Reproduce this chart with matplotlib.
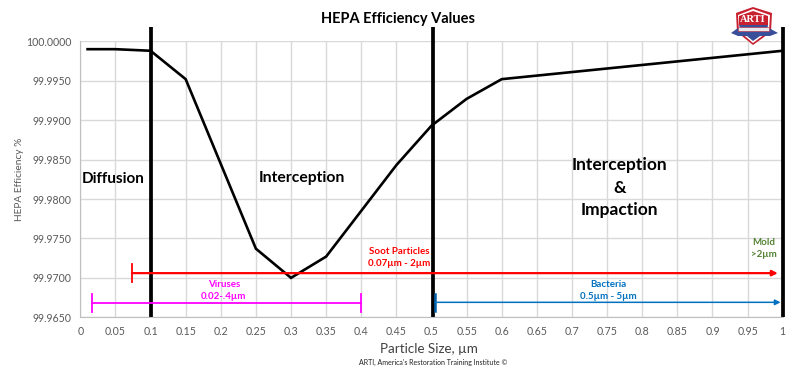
import matplotlib
matplotlib.use('Agg')
import numpy as np
from matplotlib import pyplot as plt
from matplotlib.patches import Polygon

plt.rcParams['font.family'] = ['Lato', 'DejaVu Sans']

# data
size = [0.0085, 0.05, 0.1, 0.15, 0.25, 0.3, 0.35, 0.4, 0.45, 0.5, 0.55, 0.6, 1.0]
eff = [99.9990, 99.9990, 99.9988, 99.9952, 99.9737, 99.9700, 99.9727, 99.9785,
       99.9843, 99.9893, 99.9927, 99.9952, 99.9988]
walls = [0.1, 0.5025, 1.0]
wall_top = 100.0018
soot = [0.0735, 0.993, 99.9706]
virus = [0.017, 0.40, 99.9668]
bact = [0.505, 0.997, 99.9669]
xticks = np.arange(0, 21) * 0.05
xlabels = ['0', '0.05', '0.1', '0.15', '0.2', '0.25', '0.3', '0.35', '0.4', '0.45', '0.5',
           '0.55', '0.6', '0.65', '0.7', '0.75', '0.8', '0.85', '0.9', '0.95', '1']
yticks = [99.965, 99.97, 99.975, 99.98, 99.985, 99.99, 99.995, 100.0]

W, H = 798, 370
fig = plt.figure(figsize=(W / 100, H / 100), dpi=100)
ax = fig.add_axes([80.3 / W, 1 - 317.3 / H, 702.4 / W, 276 / H])
ax.set_xlim(0, 1)
ax.set_ylim(99.965, 100.0)

ax.set_xticks(xticks)
ax.set_xticklabels(xlabels)
ax.set_yticks(yticks)
ax.set_yticklabels(['%.4f' % v for v in yticks])
ax.tick_params(length=0, labelsize=7.6, labelcolor='#595959')
ax.tick_params(axis='y', pad=6.5)
ax.tick_params(axis='x', pad=6.5)
ax.grid(True, color='#d9d9d9', lw=1)
ax.set_axisbelow(True)
for s in ['top', 'right']:
    ax.spines[s].set_visible(False)
for s in ['left', 'bottom']:
    ax.spines[s].set_color('#bfbfbf')

ax.plot(size, eff, color='black', lw=1.9, solid_joinstyle='miter', solid_capstyle='butt')
for w in walls:
    ax.plot([w, w], [99.965, wall_top], color='black', lw=2.7, clip_on=False,
            solid_capstyle='butt')

# size range arrows
ax.annotate('', xy=(soot[1], soot[2]), xytext=(soot[0], soot[2]),
            arrowprops=dict(arrowstyle='-|>', color='#ff0000', lw=1.6, mutation_scale=8,
                            shrinkA=0, shrinkB=0))
ax.plot([soot[0], soot[0]], [soot[2] - 0.0011, soot[2] + 0.0011], color='#ff0000', lw=1.3)
ax.plot(virus[:2], [virus[2], virus[2]], color='#ff00ff', lw=1.3)
for v in virus[:2]:
    ax.plot([v, v], [virus[2] - 0.0011, virus[2] + 0.0011], color='#ff00ff', lw=1.3)
ax.annotate('', xy=(bact[1], bact[2]), xytext=(bact[0], bact[2]),
            arrowprops=dict(arrowstyle='-|>', color='#0070c0', lw=1.1, mutation_scale=8,
                            shrinkA=0, shrinkB=0))
ax.plot([bact[0], bact[0]], [bact[2] - 0.0011, bact[2] + 0.0011], color='#0060a8', lw=1.8)

# range labels
bold = dict(fontweight='bold', ha='center', va='center', fontsize=7)
ax.text(0.4544, 99.9726, 'Soot Particles\n0.07µm - 2µm', color='#ff0000', linespacing=1.5, **bold)
ax.text(0.2044, 99.9684, 'Viruses\n0.02-.4µm', color='#ff00ff', linespacing=1.5, **bold)
ax.text(0.7513, 99.9684, 'Bacteria\n0.5µm - 5µm', color='#0070c0', linespacing=1.5, **bold)
ax.text(0.973, 99.9737, 'Mold\n>2µm', color='#548235', linespacing=1.5, **bold)

# regime labels
ax.text(0.0475, 99.98250, 'Diffusion', fontsize=11, fontweight='bold', ha='center', va='center')
ax.text(0.3155, 99.98265, 'Interception', fontsize=11.3, fontweight='bold', ha='center', va='center')
ax.text(0.7675, 99.9814, 'Interception\n&\nImpaction', fontsize=12.5, fontweight='bold',
        ha='center', va='center', linespacing=1.5)

fig.text(398 / W, 1 - 19 / H, 'HEPA Efficiency Values', fontsize=10.5, fontweight='bold',
         ha='center', va='center')
fig.text(20 / W, 1 - 179 / H, 'HEPA Efficiency %', fontsize=7.3, color='#595959', rotation=90,
         ha='center', va='center')
fig.text(429 / W, 1 - 349 / H, 'Particle Size, µm', fontsize=9.6, color='#404040',
         ha='center', va='center')
fig.text(433 / W, 1 - 362 / H, "ARTI, America's Restoration Training Institute ©", fontsize=5,
         color='#222222', ha='center', va='center')

# logo badge
def px(pts):
    return [(x / W, 1 - y / H) for x, y in pts]

def badge(pts, **kw):
    fig.add_artist(Polygon(px(pts), transform=fig.transFigure, **kw))

badge([(753, 7), (772, 13), (771, 32), (753, 45), (737, 32), (736, 13)], fc='#c8202f', ec='none', zorder=3)
badge([(753, 9), (770, 15), (769, 31), (753, 43), (739, 31), (738, 15)], fc='white', ec='none', zorder=3)
badge([(753, 11), (768, 16), (768, 25), (739, 25), (739, 16)], fc='#c8202f', ec='none', zorder=3)
badge([(739, 25), (768, 25), (767, 31), (753, 41), (741, 31)], fc='#3a4f9a', ec='none', zorder=3)
badge([(731, 33), (738, 28), (769, 28), (778, 33), (770, 36), (738, 36)], fc='#3a4f9a', ec='none', zorder=3)
badge([(738, 27), (769, 27), (769, 31), (738, 31)], fc='#e8e8ee', ec='#c8202f', lw=0.4, zorder=3)
fig.text(753 / W, 1 - 20 / H, 'ARTI', fontsize=7.5, fontweight='bold', family='Liberation Serif',
         color='white', ha='center', va='center', zorder=4)

fig.savefig('out.png', dpi=100)
